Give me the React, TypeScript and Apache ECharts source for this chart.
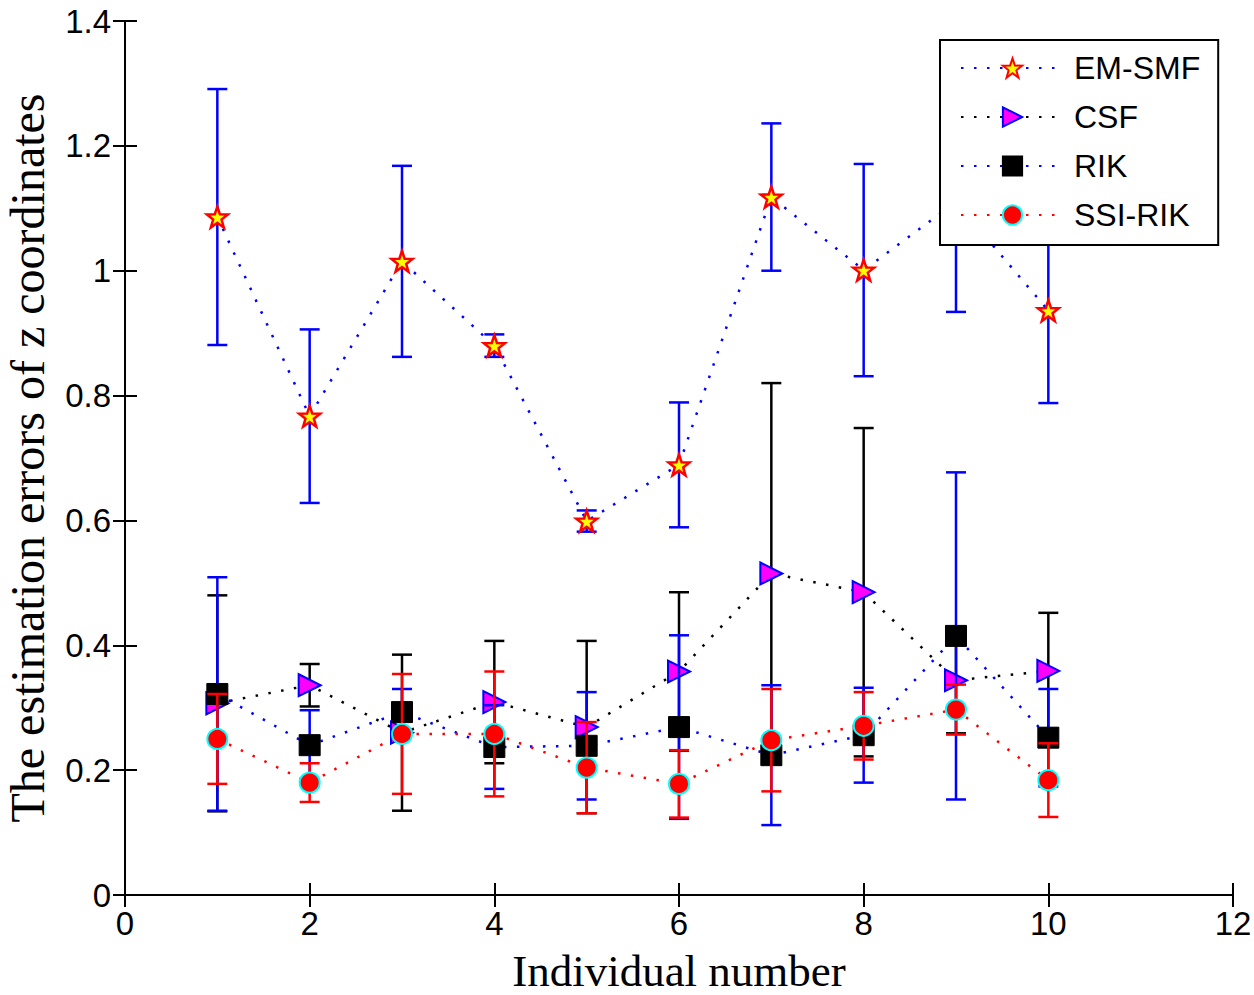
import React, { useEffect, useRef } from "react";
import * as echarts from "echarts";

const individuals = [1, 2, 3, 4, 5, 6, 7, 8, 9, 10];
const seriesNames = ["EM-SMF", "CSF", "RIK", "SSI-RIK"];

const emsmfMean = [1.086, 0.767, 1.015, 0.88, 0.599, 0.689, 1.118, 1.001, 1.11, 0.936];
const emsmfErr = [0.205, 0.139, 0.153, 0.018, 0.017, 0.1, 0.118, 0.17, 0.176, 0.148];

const csfMean = [0.307, 0.336, 0.26, 0.309, 0.269, 0.358, 0.515, 0.485, 0.344, 0.359];
const csfErr = [0.173, 0.034, 0.125, 0.098, 0.138, 0.127, 0.305, 0.263, 0.085, 0.093];

const rikMean = [0.322, 0.24, 0.293, 0.237, 0.239, 0.269, 0.224, 0.256, 0.415, 0.252];
const rikErr = [0.187, 0.056, 0.037, 0.067, 0.086, 0.147, 0.112, 0.076, 0.262, 0.078];

const ssiMean = [0.25, 0.18, 0.258, 0.258, 0.204, 0.178, 0.248, 0.271, 0.297, 0.184];
const ssiErr = [0.072, 0.031, 0.096, 0.1, 0.073, 0.054, 0.082, 0.054, 0.04, 0.059];

const STAR =
  "path://M0,-10L2.35,-3.24L9.51,-3.09L3.8,1.24L5.88,8.09L0,4L-5.88,8.09L-3.8,1.24L-9.51,-3.09L-2.35,-3.24Z";

type Spec = {
  name: string;
  mean: number[];
  err: number[];
  lineColor: string;
  barColor: string;
  symbol: string;
  symbolSize: number;
  symbolRotate?: number;
  fill: string;
  edge: string;
  edgeWidth: number;
};

const specs: Spec[] = [
  { name: seriesNames[0], mean: emsmfMean, err: emsmfErr, lineColor: "#0000ff", barColor: "#0000ff", symbol: STAR, symbolSize: 21, fill: "#ffff00", edge: "#ff0000", edgeWidth: 2.5 },
  { name: seriesNames[1], mean: csfMean, err: csfErr, lineColor: "#000000", barColor: "#000000", symbol: "triangle", symbolSize: 22, symbolRotate: -90, fill: "#ff00ff", edge: "#0000ff", edgeWidth: 2 },
  { name: seriesNames[2], mean: rikMean, err: rikErr, lineColor: "#0000ff", barColor: "#0000ff", symbol: "rect", symbolSize: 21, fill: "#000000", edge: "#000000", edgeWidth: 1 },
  { name: seriesNames[3], mean: ssiMean, err: ssiErr, lineColor: "#ff0000", barColor: "#ff0000", symbol: "circle", symbolSize: 20, fill: "#ff0000", edge: "#00ffff", edgeWidth: 2 },
];

export default function App() {
  const ref = useRef<HTMLDivElement>(null);

  useEffect(() => {
    if (!ref.current) return;
    const chart = echarts.init(ref.current, undefined, { renderer: "svg" });

    const series: any[] = [];
    specs.forEach((s, i) => {
      const color = s.barColor;
      series.push({
        name: s.name + " error",
        type: "custom",
        z: 2 + i * 2,
        xAxisIndex: 0,
        yAxisIndex: 0,
        encode: { x: 0, y: [1, 2] },
        data: individuals.map((x, k) => [x, s.mean[k] - s.err[k], s.mean[k] + s.err[k]]),
        renderItem: (params: any, api: any) => {
          const x = api.value(0);
          const top = api.coord([x, api.value(2)]);
          const bot = api.coord([x, api.value(1)]);
          const hw = 10;
          const style = { stroke: color, lineWidth: 2.5 };
          return {
            type: "group",
            children: [
              { type: "line", shape: { x1: top[0], y1: top[1], x2: bot[0], y2: bot[1] }, style },
              { type: "line", shape: { x1: top[0] - hw, y1: top[1], x2: top[0] + hw, y2: top[1] }, style },
              { type: "line", shape: { x1: bot[0] - hw, y1: bot[1], x2: bot[0] + hw, y2: bot[1] }, style },
            ],
          };
        },
      });
      series.push({
        name: s.name,
        type: "line",
        z: 3 + i * 2,
        xAxisIndex: 0,
        yAxisIndex: 0,
        data: individuals.map((x, k) => [x, s.mean[k]]),
        symbol: s.symbol,
        symbolSize: s.symbolSize,
        symbolRotate: s.symbolRotate || 0,
        showAllSymbol: true,
        lineStyle: { color: s.lineColor, width: 2.5, type: [2.5, 10.5] },
        itemStyle: { color: s.fill, borderColor: s.edge, borderWidth: s.edgeWidth },
        emphasis: { disabled: true },
      });
    });

    const tickLabel = { color: "#000", fontFamily: "Liberation Sans, Arial, sans-serif", fontSize: 33 };
    const axisLine = { show: true, lineStyle: { color: "#000", width: 2 } };
    const axisTick = { show: true, inside: true, length: 12, lineStyle: { color: "#000", width: 2 } };

    chart.setOption({
      animation: false,
      backgroundColor: "#fff",
      grid: { left: 125, right: 21, top: 21, bottom: 100, containLabel: false, outerBoundsMode: "none" },
      xAxis: [
        {
          type: "value",
          min: 0,
          max: 12,
          interval: 2,
          position: "bottom",
          axisLine,
          axisTick,
          splitLine: { show: false },
          axisLabel: { ...tickLabel, margin: 12 },
          name: "Individual number",
          nameLocation: "middle",
          nameGap: 55,
          nameTextStyle: { color: "#000", fontFamily: "Liberation Serif, Times New Roman, serif", fontSize: 45, lineHeight: 42 },
        },
        {
          type: "value",
          min: 0,
          max: 12,
          interval: 2,
          position: "top",
          axisLine,
          axisTick,
          splitLine: { show: false },
          axisLabel: { show: false },
        },
      ],
      yAxis: [
        {
          type: "value",
          min: 0,
          max: 1.4,
          interval: 0.2,
          position: "left",
          axisLine,
          axisTick,
          splitLine: { show: false },
          axisLabel: { ...tickLabel, margin: 14 },
          name: "The estimation errors of z coordinates",
          nameLocation: "middle",
          nameGap: 76,
          nameTextStyle: { color: "#000", fontFamily: "Liberation Serif, Times New Roman, serif", fontSize: 48, lineHeight: 44 },
        },
        {
          type: "value",
          min: 0,
          max: 1.4,
          interval: 0.2,
          position: "right",
          axisLine,
          axisTick,
          splitLine: { show: false },
          axisLabel: { show: false },
        },
      ],
      legend: {
        data: seriesNames,
        orient: "vertical",
        left: 940,
        top: 40,
        padding: [12, 18, 14, 20],
        itemGap: 17,
        itemWidth: 103,
        itemHeight: 24,
        backgroundColor: "#fff",
        borderColor: "#000",
        borderWidth: 2,
        borderRadius: 0,
        selectedMode: false,
        textStyle: { color: "#000", fontFamily: "Liberation Sans, Arial, sans-serif", fontSize: 32, padding: [0, 0, 0, 5] },
        z: 20,
      },
      series,
    });

    return () => chart.dispose();
  }, []);

  return (
    <div
      ref={ref}
      style={{ position: "fixed", left: 0, top: 0, width: 1254, height: 995, background: "#fff" }}
    />
  );
}
